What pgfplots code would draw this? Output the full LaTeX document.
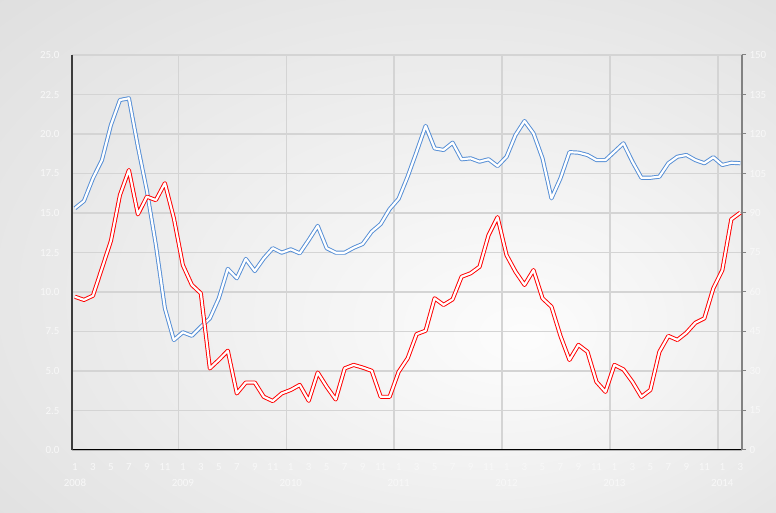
\documentclass[border=0pt]{standalone}
\usepackage{pgfplots}
\pgfplotsset{compat=1.18}
\usepackage{fontspec}
\setmainfont{Carlito}

\definecolor{lineblue}{RGB}{85,142,213}
\definecolor{linered}{RGB}{255,0,0}
\definecolor{gridgray}{RGB}{212,212,212}
\definecolor{labelwhite}{RGB}{248,248,248}
\definecolor{axdark}{RGB}{60,60,60}
\definecolor{axgray}{RGB}{130,130,130}

\pgfdeclareradialshading{bgshade}{\pgfpoint{9bp}{-8bp}}{%
  color(0bp)=(white!99!black); color(14bp)=(white!95!black); color(50bp)=(white!84!black)}

% monthly index: 0 = Jan 2008 ... 74 = Mar 2014
\pgfplotstableread{
k v
0 15.30
1 15.76
2 17.20
3 18.35
4 20.57
5 22.15
6 22.26
7 19.20
8 16.40
9 12.97
10 8.97
11 6.96
12 7.45
13 7.23
14 7.80
15 8.33
16 9.60
17 11.46
18 10.87
19 12.09
20 11.33
21 12.13
22 12.77
23 12.49
24 12.70
25 12.45
26 13.29
27 14.18
28 12.77
29 12.49
30 12.49
31 12.80
32 13.04
33 13.82
34 14.30
35 15.25
36 15.90
37 17.30
38 18.88
39 20.51
40 19.09
41 18.99
42 19.45
43 18.40
44 18.46
45 18.25
46 18.40
47 17.97
48 18.56
49 19.94
50 20.82
51 20.04
52 18.46
53 15.93
54 17.20
55 18.85
56 18.82
57 18.67
58 18.35
59 18.35
60 18.88
61 19.41
62 18.25
63 17.23
64 17.23
65 17.30
66 18.15
67 18.56
68 18.67
69 18.35
70 18.15
71 18.53
72 18.04
73 18.18
74 18.15
}\bluedata

\pgfplotstableread{
k r
0 58.2
1 57.0
2 58.6
3 69.0
4 79.4
5 96.8
6 106.3
7 89.5
8 96.2
9 94.9
10 101.3
11 88.0
12 70.2
13 62.7
14 59.5
15 31.0
16 34.2
17 37.7
18 21.5
19 25.6
20 25.6
21 20.2
22 18.6
23 21.5
24 22.8
25 24.7
26 18.7
27 29.4
28 24.0
29 19.2
30 31.0
31 32.3
32 31.3
33 30.1
34 20.2
35 20.2
36 29.7
37 34.8
38 44.0
39 45.3
40 57.6
41 55.1
42 57.2
43 65.8
44 67.1
45 69.6
46 81.6
47 88.4
48 74.0
49 67.7
50 62.7
51 68.3
52 57.6
53 54.4
54 43.3
55 34.2
56 39.9
57 37.3
58 25.9
59 22.1
60 32.3
61 30.6
62 25.9
63 20.2
64 22.8
65 37.3
66 43.3
67 41.8
68 44.5
69 48.3
70 50.0
71 61.4
72 68.3
73 87.6
74 90.1
}\reddata

\pgfplotsset{
  twin/.style={
    scale only axis, width=670bp, height=395bp,
    at={(72bp,63bp)}, anchor=south west,
    xmin=-0.33, xmax=74.19,
    /pgf/number format/assume math mode=true,
    tick label style={font=\fontsize{11}{16}\selectfont, text=labelwhite},
  },
  outline/.style={draw=#1, double=white, double distance=2.2bp,
    line width=0.95bp, line join=round, mark=none},
}

\begin{document}
\begin{tikzpicture}
\shade[shading=bgshade] (0,0) rectangle (776bp,513bp);
\useasboundingbox (0,0) rectangle (776bp,513bp);

\begin{axis}[twin,
  ymin=0, ymax=25,
  ytick={0,2.5,...,25},
  yticklabel style={/pgf/number format/fixed, /pgf/number format/fixed zerofill,
    /pgf/number format/precision=1, xshift=-9bp},
  xtick={0,2,...,74},
  xticklabels={1\\2008,3,5,7,9,11,1\\2009,3,5,7,9,11,1\\2010,3,5,7,9,11,
    1\\2011,3,5,7,9,11,1\\2012,3,5,7,9,11,1\\2013,3,5,7,9,11,1\\2014,3},
  xticklabel style={align=center, anchor=north, yshift=-9.5bp},
  minor xtick={11.5,23.5,35.5,47.5,59.5,71.5},
  ymajorgrids=true, xminorgrids=true,
  major grid style={gridgray, line width=1.4bp},
  minor grid style={gridgray, line width=1.4bp},
  major tick length=0pt, minor tick length=0pt,
  axis x line*=bottom, axis y line*=left,
  x axis line style={draw=black, double=axgray!60, double distance=0.8bp, line width=0.9bp, -},
  y axis line style={draw=axdark, line width=2.4bp, -},
]
\addplot[outline=lineblue] table[x=k, y=v] {\bluedata};
\end{axis}

\begin{axis}[twin,
  ymin=0, ymax=150,
  ytick={0,15,...,150},
  axis x line=none, axis y line*=right,
  y axis line style={draw=axgray, line width=1.3bp, -},
  tick align=outside, major tick length=4bp,
  ytick style={draw=axgray, line width=1bp},
]
\addplot[outline=linered] table[x=k, y=r] {\reddata};
\end{axis}
\end{tikzpicture}
\end{document}
